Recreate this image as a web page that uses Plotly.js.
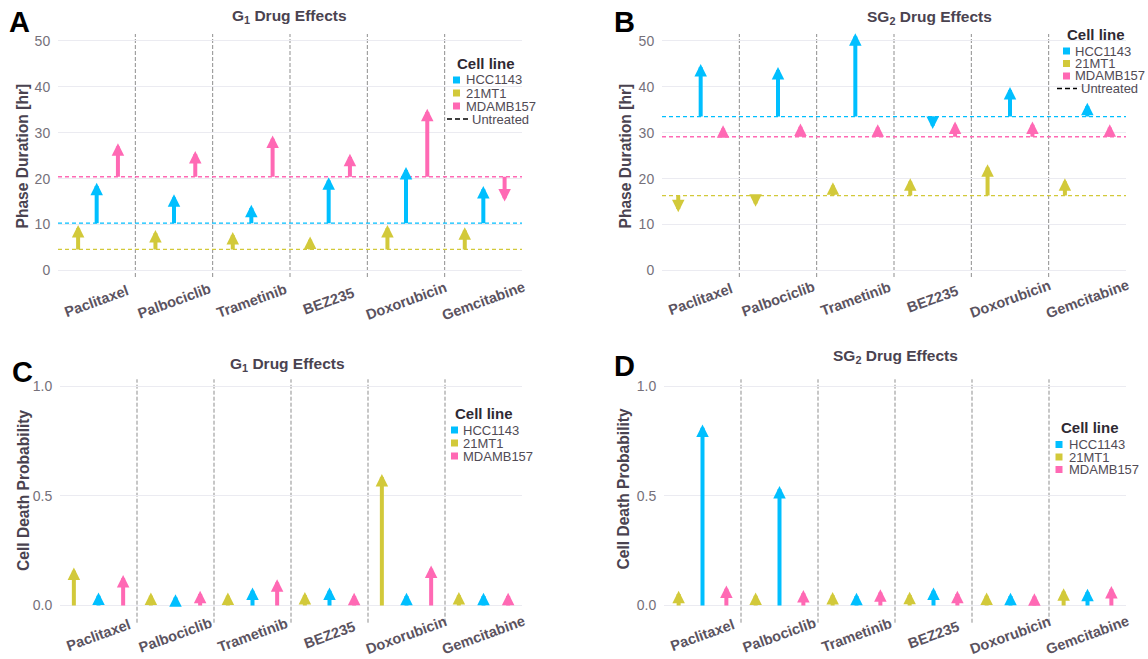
<!DOCTYPE html>
<html>
<head>
<meta charset="utf-8">
<script src="https://cdn.plot.ly/plotly-3.0.1.min.js"></script>
<style>
  html, body { margin: 0; padding: 0; background: #ffffff; }
  #chart { width: 1148px; height: 659px; }
</style>
</head>
<body>
<div id="chart"></div>
<script>
// ---- data ----------------------------------------------------------
const drugs = ['Paclitaxel', 'Palbociclib', 'Trametinib', 'BEZ235', 'Doxorubicin', 'Gemcitabine'];
const cellLines = ['HCC1143', '21MT1', 'MDAMB157'];
const cellColors = ['#00BFFF', '#D2C93A', '#FF69B4'];

// G1 phase duration [hr] under each drug
const g1HCC1143 = [19.1, 16.6, 14.3, 20.3, 22.5, 18.4];
const g1_21MT1 = [9.9, 8.8, 8.4, 7.4, 9.9, 9.4];
const g1MDAMB157 = [27.7, 26.0, 29.4, 25.4, 35.2, 15.0];
// untreated G1 duration, in cellLines order
const g1Untreated = [10.3, 4.6, 20.4];

// SG2 phase duration [hr] under each drug
const sg2HCC1143 = [44.9, 44.3, 51.6, 30.8, 39.9, 36.5];
const sg2_21MT1 = [12.7, 13.9, 19.2, 20.1, 23.1, 20.1];
const sg2MDAMB157 = [31.6, 32.0, 31.8, 32.4, 32.4, 31.8];
const sg2Untreated = [33.5, 16.3, 29.1];

// cell death probability in G1
const deathG1HCC1143 = [0.059, 0.051, 0.082, 0.082, 0.058, 0.058];
const deathG1_21MT1 = [0.173, 0.059, 0.059, 0.061, 0.599, 0.061];
const deathG1MDAMB157 = [0.138, 0.067, 0.119, 0.058, 0.182, 0.058];
const deathUntreated = [0, 0, 0];

// cell death probability in SG2
const deathSG2HCC1143 = [0.825, 0.544, 0.058, 0.082, 0.058, 0.076];
const deathSG2_21MT1 = [0.067, 0.059, 0.061, 0.062, 0.059, 0.078];
const deathSG2MDAMB157 = [0.091, 0.070, 0.073, 0.067, 0.055, 0.088];

// ---- page geometry -------------------------------------------------
const W = 1148, H = 659;
const PX = p => p / W;          // pixel -> paper x
const PY = p => 1 - p / H;      // pixel -> paper y

const FONT = 'Liberation Sans, Arial, Helvetica, sans-serif';
const TEXT_DARK = '#4a4350';
const TEXT_TICK = '#75707a';

const panels = [
  {
    letter: 'A', letterPos: [8, 22.5], id: '',
    box: [58, 522, 34, 277], yRange: [-1.4, 51.45], dtick: 10, fmt: '',
    yTitle: 'Phase Duration [hr]', yTitlePos: [22.5, 156],
    title: 'G<sub>1</sub> Drug Effects', titlePos: [289, 17],
    series: [g1HCC1143, g1_21MT1, g1MDAMB157], base: g1Untreated, showBase: true,
    offsets: [0, -0.24, 0.275], labelY: 301,
    legend: {titleX: 456, titleY: 63.5, sqX: 453, textX: 465, rows: [80, 93, 106, 119], dashX: [447, 468], dashTextX: 471}
  },
  {
    letter: 'B', letterPos: [612.5, 22.5], id: '2',
    box: [662, 1126, 34, 277], yRange: [-1.4, 51.45], dtick: 10, fmt: '',
    yTitle: 'Phase Duration [hr]', yTitlePos: [625.5, 156],
    title: 'SG<sub>2</sub> Drug Effects', titlePos: [929, 18],
    series: [sg2HCC1143, sg2_21MT1, sg2MDAMB157], base: sg2Untreated, showBase: true,
    offsets: [0, -0.29, 0.29], labelY: 299,
    legend: {titleX: 1066, titleY: 35, sqX: 1063, textX: 1074, rows: [51, 63.5, 76, 88.5], dashX: [1057, 1077], dashTextX: 1080}
  },
  {
    letter: 'C', letterPos: [10.5, 372], id: '3',
    box: [60, 522, 379.3, 622.7], yRange: [-0.079, 1.031], dtick: 0.5, fmt: '.1f',
    yTitle: 'Cell Death Probability', yTitlePos: [24, 491],
    title: 'G<sub>1</sub> Drug Effects', titlePos: [287.5, 364],
    series: [deathG1HCC1143, deathG1_21MT1, deathG1MDAMB157], base: deathUntreated, showBase: false,
    offsets: [0, -0.32, 0.32], labelY: 635,
    legend: {titleX: 454, titleY: 413.5, sqX: 451, textX: 462, rows: [430, 443, 456]}
  },
  {
    letter: 'D', letterPos: [612.5, 365.5], id: '4',
    box: [664, 1126, 379.3, 622.7], yRange: [-0.079, 1.031], dtick: 0.5, fmt: '.1f',
    yTitle: 'Cell Death Probability', yTitlePos: [623.5, 489],
    title: 'SG<sub>2</sub> Drug Effects', titlePos: [895, 357],
    series: [deathSG2HCC1143, deathSG2_21MT1, deathSG2MDAMB157], base: deathUntreated, showBase: false,
    offsets: [0, -0.31, 0.31], labelY: 635,
    legend: {titleX: 1060, titleY: 428, sqX: 1055.5, textX: 1067.5, rows: [444.5, 457, 469.5]}
  }
];

const data = [];
const layout = {
  width: W, height: H,
  margin: {l: 0, r: 0, t: 0, b: 0},
  paper_bgcolor: '#ffffff',
  plot_bgcolor: 'rgba(0,0,0,0)',
  showlegend: false,
  font: {family: FONT, color: TEXT_DARK},
  annotations: [],
  shapes: []
};

panels.forEach(p => {
  const xa = 'x' + p.id, ya = 'y' + p.id;
  const xKey = 'xaxis' + p.id, yKey = 'yaxis' + p.id;

  layout[xKey] = {
    domain: [PX(p.box[0]), PX(p.box[1])],
    anchor: ya,
    range: [-0.5, drugs.length - 0.5],
    showgrid: false, zeroline: false, showline: false,
    showticklabels: false, ticks: '', fixedrange: true
  };
  layout[yKey] = {
    domain: [PY(p.box[3]), PY(p.box[2])],
    anchor: xa,
    range: p.yRange,
    dtick: p.dtick, tick0: 0,
    tickformat: p.fmt,
    showgrid: true, gridcolor: '#EBEBF1', gridwidth: 1.1,
    zeroline: false, showline: false,
    ticks: 'outside', ticklen: 4, tickcolor: 'rgba(0,0,0,0)',
    tickfont: {family: FONT, size: 14, color: TEXT_TICK},
    fixedrange: true
  };

  // empty trace so the subplot is registered
  data.push({type: 'scatter', mode: 'markers', x: [], y: [], xaxis: xa, yaxis: ya,
             showlegend: false, hoverinfo: 'skip'});

  // y axis title
  layout.annotations.push({
    xref: 'paper', yref: 'paper', x: PX(p.yTitlePos[0]), y: PY(p.yTitlePos[1]),
    text: p.yTitle, showarrow: false, textangle: -90,
    xanchor: 'center', yanchor: 'middle', borderpad: 0,
    font: {family: FONT, size: 15.6, weight: 'bold', color: TEXT_DARK}
  });

  // dashed separators between drug groups
  for (let i = 1; i < drugs.length; i++) {
    layout.shapes.push({
      type: 'line', layer: 'below', xref: xa, yref: ya + ' domain',
      x0: i - 0.5, x1: i - 0.5, y0: 0, y1: 1,
      line: {color: '#8f8f8f', width: 1, dash: '4px,2px'}
    });
  }

  // untreated reference durations
  if (p.showBase) {
    p.base.forEach((b, k) => {
      layout.shapes.push({
        type: 'line', layer: 'below', xref: xa + ' domain', yref: ya,
        x0: 0, x1: 1, y0: b, y1: b,
        line: {color: cellColors[k], width: 1.3, dash: '4px,3px'}
      });
    });
  }

  // arrows from untreated value to treated value
  p.series.forEach((vals, k) => {
    vals.forEach((v, i) => {
      const xpos = i + p.offsets[k];
      layout.annotations.push({
        xref: xa, yref: ya, axref: xa, ayref: ya,
        x: xpos, y: v, ax: xpos, ay: p.base[k],
        text: '', showarrow: true,
        arrowhead: 2, arrowsize: 0.625, arrowwidth: 4,
        arrowcolor: cellColors[k], standoff: 0,
        borderpad: 0, borderwidth: 0, font: {size: 1}
      });
    });
  });

  // drug names under each group
  drugs.forEach((d, i) => {
    layout.annotations.push({
      xref: xa, yref: 'paper', x: i, y: PY(p.labelY),
      text: d, showarrow: false, textangle: -20,
      xanchor: 'center', yanchor: 'middle', borderpad: 0,
      font: {family: FONT, size: 14.5, weight: 'bold', color: '#5b535f'}
    });
  });

  // panel title
  layout.annotations.push({
    xref: 'paper', yref: 'paper', x: PX(p.titlePos[0]), y: PY(p.titlePos[1]),
    text: p.title, showarrow: false, xanchor: 'center', yanchor: 'middle', borderpad: 0,
    font: {family: FONT, size: 15.5, weight: 'bold', color: TEXT_DARK}
  });

  // panel letter
  layout.annotations.push({
    xref: 'paper', yref: 'paper', x: PX(p.letterPos[0]), y: PY(p.letterPos[1]),
    text: p.letter, showarrow: false, xanchor: 'left', yanchor: 'middle', borderpad: 0,
    font: {family: FONT, size: 29, weight: 'bold', color: '#000000'}
  });

  // legend: title, colour keys, untreated key
  const lg = p.legend;
  layout.annotations.push({
    xref: 'paper', yref: 'paper', x: PX(lg.titleX), y: PY(lg.titleY),
    text: 'Cell line', showarrow: false, xanchor: 'left', yanchor: 'middle', borderpad: 0,
    font: {family: FONT, size: 15, weight: 'bold', color: '#2f2a33'}
  });
  cellLines.forEach((name, k) => {
    const cy = lg.rows[k];
    layout.shapes.push({
      type: 'rect', xref: 'paper', yref: 'paper',
      x0: PX(lg.sqX), x1: PX(lg.sqX + 7), y0: PY(cy + 3.5), y1: PY(cy - 3.5),
      fillcolor: cellColors[k], line: {width: 0}
    });
    layout.annotations.push({
      xref: 'paper', yref: 'paper', x: PX(lg.textX), y: PY(cy),
      text: name, showarrow: false, xanchor: 'left', yanchor: 'middle', borderpad: 0,
      font: {family: FONT, size: 13, color: '#514b55'}
    });
  });
  if (p.showBase) {
    const cy = lg.rows[3];
    layout.shapes.push({
      type: 'line', xref: 'paper', yref: 'paper',
      x0: PX(lg.dashX[0]), x1: PX(lg.dashX[1]), y0: PY(cy), y1: PY(cy),
      line: {color: '#000000', width: 1.3, dash: '5px,3px'}
    });
    layout.annotations.push({
      xref: 'paper', yref: 'paper', x: PX(lg.dashTextX), y: PY(cy),
      text: 'Untreated', showarrow: false, xanchor: 'left', yanchor: 'middle', borderpad: 0,
      font: {family: FONT, size: 13, color: '#514b55'}
    });
  }
});

Plotly.newPlot('chart', data, layout, {staticPlot: true, displayModeBar: false});
</script>
</body>
</html>
